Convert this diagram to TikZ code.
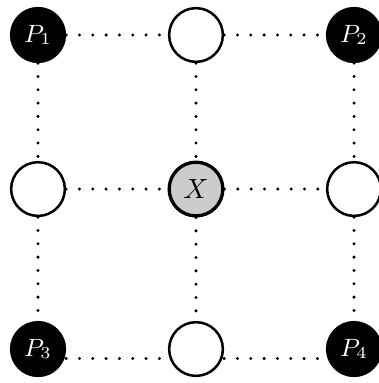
\documentclass[tikz,border=0pt]{standalone}
\usepackage{tikz}
\tikzset{
  pt/.style={circle, minimum size=0.68cm, inner sep=0pt, line width=0.9pt, draw=black},
  blk/.style={pt, fill=black, text=white, font=\small},
  wht/.style={pt, fill=white},
  ctr/.style={pt, fill=black!20, line width=1.2pt, font=\normalsize},
  link/.style={line width=1.2pt, line cap=round, dash pattern=on 0pt off 4.8pt}
}
\begin{document}
\begin{tikzpicture}
\useasboundingbox (-0.481,0.443) rectangle (4.304,-4.405);
\def\ya{0} \def\yb{-1.95} \def\yc{-3.975}
\node[blk] (p1) at (0,\ya) {$P_1$};
\node[wht] (t)  at (2,\ya) {};
\node[blk] (p2) at (4,\ya) {$P_2$};
\node[wht] (l)  at (0,\yb) {};
\node[ctr] (x)  at (2,\yb) {$X$};
\node[wht] (r)  at (4,\yb) {};
\node[blk] (p3) at (0,\yc) {$P_3$};
\node[wht] (b)  at (2,\yc) {};
\node[blk] (p4) at (4,\yc) {$P_4$};
\draw[link] (p1) -- (t);
\draw[link] (t) -- (p2);
\draw[link] (l) -- (x);
\draw[link] (x) -- (r);
\draw[link] ([yshift=-0.12cm]p3.east) -- ([yshift=-0.12cm]b.west);
\draw[link] ([yshift=-0.12cm]b.east) -- ([yshift=-0.12cm]p4.west);
\draw[link] (p1) -- (l);
\draw[link] (l) -- (p3);
\draw[link] (t) -- (x);
\draw[link] (x) -- (b);
\draw[link] (p2) -- (r);
\draw[link] (r) -- (p4);
\end{tikzpicture}
\end{document}
